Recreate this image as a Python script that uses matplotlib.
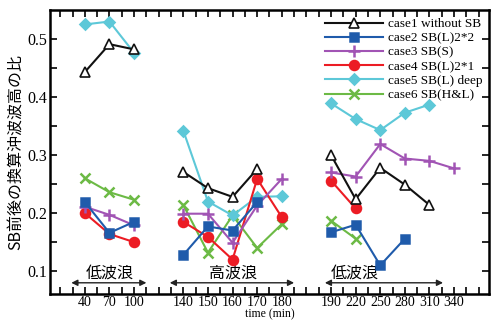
import numpy as np
import matplotlib
matplotlib.use("Agg")
import matplotlib.pyplot as plt

nan = np.nan

# time groups (min) and the wave condition of each group
groups = [[40, 70, 100], [140, 150, 160, 170, 180], [190, 220, 250, 280, 310, 340]]
group_names = ["低波浪", "高波浪", "低波浪"]

case_labels = ["case1 without SB", "case2 SB(L)2*2", "case3 SB(S)",
               "case4 SB(L)2*1", "case5 SB(L) deep", "case6 SB(H&L)"]

case1 = [0.443, 0.491, 0.482, 0.271, 0.243, 0.228, 0.276, nan,
         0.300, 0.224, 0.278, 0.249, 0.214, nan]
case2 = [0.219, 0.166, 0.185, 0.128, 0.177, 0.170, 0.219, nan,
         0.167, 0.180, 0.110, 0.156, nan, nan]
case3 = [0.211, 0.197, 0.179, 0.199, 0.199, 0.149, 0.213, 0.259,
         0.270, 0.263, 0.319, 0.294, 0.290, 0.277]
case4 = [0.200, 0.164, 0.150, 0.185, 0.159, 0.120, 0.259, 0.193,
         0.256, 0.208, nan, nan, nan, nan]
case5 = [0.525, 0.530, 0.476, 0.342, 0.220, 0.196, 0.228, 0.229,
         0.389, 0.362, 0.343, 0.373, 0.387, nan]
case6 = [0.260, 0.236, 0.223, 0.214, 0.132, 0.196, 0.140, 0.181,
         0.187, 0.156, nan, nan, nan, nan]

cases = [case1, case2, case3, case4, case5, case6]
colors = ["#111111", "#1f5bab", "#a154b4", "#ec1c24", "#5dc8d8", "#6cba45"]
markers = ["^", "s", "+", "o", "D", "x"]
msizes = {"^": 6.5, "s": 6, "+": 9, "o": 6.5, "D": 5.5, "x": 7}

# evenly spaced category slots, one empty slot between groups
pos_groups = []
k = 1
for g in groups:
    pos_groups.append(list(range(k, k + len(g))))
    k += len(g) + 1
positions = [p for pg in pos_groups for p in pg]
times = [t for g in groups for t in g]

serif = "Liberation Serif"
cjk = ["Noto Sans CJK JP", "DejaVu Sans"]

fig = plt.figure(figsize=(4.94, 3.2), dpi=100)
ax = fig.add_axes([0.101, 0.08, 0.889, 0.889])

for ci, vals in enumerate(cases):
    vals = np.array(vals)
    start = 0
    for gi, pg in enumerate(pos_groups):
        seg = vals[start:start + len(pg)]
        start += len(pg)
        mfc = "white" if markers[ci] == "^" else colors[ci]
        ax.plot(pg, seg, color=colors[ci], marker=markers[ci],
                markersize=msizes[markers[ci]],
                markerfacecolor=mfc, markeredgecolor=colors[ci],
                markeredgewidth=1.2 if markers[ci] == "^" else 1.8,
                linewidth=1.5, zorder=10 - ci if ci else 12,
                label=case_labels[ci] if gi == 0 else None)

# group annotations
for gi, pg in enumerate(pos_groups):
    lo, hi = pg[0] - 0.55, pg[-1] + 0.5
    if gi == 2:
        lo, hi = pg[0] - 0.25, pg[-1] - 0.45
    ax.annotate("", xy=(lo, 0.080), xytext=(hi, 0.080),
                arrowprops=dict(arrowstyle="<|-|>", color="#222222", lw=1.0,
                                mutation_scale=9, shrinkA=0, shrinkB=0))
    cx = np.mean(pg) if gi < 2 else pg[1] - 0.05
    ax.text(cx, 0.082, group_names[gi], ha="center", va="bottom",
            family=cjk, fontsize=11.5)

ax.set_xlim(-0.42, 17.42)
ax.set_ylim(0.06, 0.55)
ax.set_xticks(positions)
ax.set_xticklabels([str(t) for t in times], fontfamily=serif, fontsize=10)
ax.set_xticks(np.arange(0, 17.5, 0.5), minor=True)
ax.set_yticks([0.1, 0.2, 0.3, 0.4, 0.5])
ax.set_yticklabels(["0.1", "0.2", "0.3", "0.4", "0.5"], fontfamily=serif, fontsize=11.5)
ax.set_yticks(np.arange(0.1, 0.55, 0.05), minor=True)
ax.tick_params(which="both", direction="in", top=True, right=True, width=1.2)
ax.tick_params(which="major", length=5, pad=2)
ax.tick_params(axis="x", which="major", pad=1.5)
ax.tick_params(which="minor", length=5)
for s in ax.spines.values():
    s.set_linewidth(1.8)

ax.set_xlabel("time (min)", fontfamily=serif, fontsize=8.5, labelpad=-0.5)
ax.set_ylabel("SB前後の換算沖波波高の比", family=cjk, fontsize=11.5, labelpad=2)

ax.legend(loc="upper right", frameon=False, prop={"family": serif, "size": 9.5},
          handlelength=4.4, handletextpad=0.4, labelspacing=0.15,
          borderaxespad=0.1, bbox_to_anchor=(1.0, 0.995))

fig.savefig("out.png", dpi=100)
